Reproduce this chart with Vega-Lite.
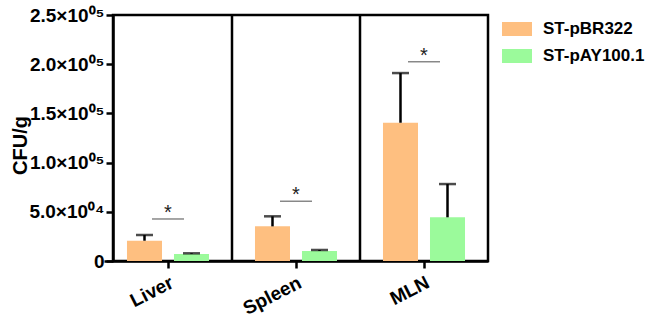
{
  "$schema": "https://vega.github.io/schema/vega-lite/v6.json",
  "width": 375,
  "height": 246,
  "autosize": {"type": "none"},
  "padding": {"left": 113, "top": 15, "right": 165, "bottom": 62},
  "background": "white",
  "config": {
    "view": {"stroke": "black", "strokeWidth": 2.5},
    "font": "Liberation Sans",
    "axisY": {
      "grid": false,
      "labelFontSize": 19,
      "labelFontWeight": "bold",
      "labelColor": "black",
      "labelPadding": 2,
      "tickSize": 7,
      "tickWidth": 2.5,
      "tickColor": "black",
      "domainColor": "black",
      "domainWidth": 2.5,
      "titleFontSize": 20,
      "titleFontWeight": "bold",
      "titleColor": "black",
      "titleX": -93,
      "titleY": 130,
      "titleAngle": -90,
      "titleAlign": "center",
      "titleBaseline": "middle"
    },
    "axisX": {
      "labelAngle": -27,
      "labelAlign": "right",
      "labelBaseline": "top",
      "labelFontSize": 19,
      "labelFontWeight": "bold",
      "labelColor": "black",
      "labelPadding": 5,
      "tickSize": 7,
      "tickWidth": 2.5,
      "tickColor": "black",
      "domainColor": "black",
      "domainWidth": 2.5
    }
  },
  "datasets": {
    "bars": [
      {"tissue": "Liver", "group": "ST-pBR322", "mean": 20600, "upper": 26400},
      {"tissue": "Liver", "group": "ST-pAY100.1", "mean": 7100, "upper": 7800},
      {"tissue": "Spleen", "group": "ST-pBR322", "mean": 35200, "upper": 45400},
      {"tissue": "Spleen", "group": "ST-pAY100.1", "mean": 10200, "upper": 11200},
      {"tissue": "MLN", "group": "ST-pBR322", "mean": 140500, "upper": 191000},
      {"tissue": "MLN", "group": "ST-pAY100.1", "mean": 44400, "upper": 78200}
    ],
    "sig": [
      {"tissue": "Liver", "y": 42700, "label": "*"},
      {"tissue": "Spleen", "y": 60700, "label": "*"},
      {"tissue": "MLN", "y": 202500, "label": "*"}
    ],
    "sep": [{"tissue": "Spleen"}, {"tissue": "MLN"}]
  },
  "encoding": {
    "x": {
      "field": "tissue",
      "type": "nominal",
      "sort": ["Liver", "Spleen", "MLN"],
      "scale": {"domain": ["Liver", "Spleen", "MLN"], "range": [-9, 375], "paddingInner": 0, "paddingOuter": 0},
      "axis": {"title": null}
    }
  },
  "layer": [
    {
      "data": {"name": "bars"},
      "mark": {"type": "bar"},
      "encoding": {
        "xOffset": {"field": "group", "type": "nominal", "scale": {"domain": ["ST-pBR322", "ST-pAY100.1"], "paddingInner": 0.255, "paddingOuter": 0.489}},
        "y": {
          "field": "mean",
          "type": "quantitative",
          "title": "CFU/g",
          "scale": {"domain": [0, 250000], "nice": false},
          "axis": {
            "values": [0, 50000, 100000, 150000, 200000, 250000],
            "labelExpr": "datum.value == 0 ? '0' : datum.value == 50000 ? '5.0×10⁰⁴' : format(datum.value/100000, '.1f') + '×10⁰⁵'"
          }
        },
        "color": {
          "field": "group",
          "type": "nominal",
          "scale": {"domain": ["ST-pBR322", "ST-pAY100.1"], "range": ["#FEBF80", "#9BFA9B"]},
          "legend": {
            "title": null,
            "orient": "none",
            "legendX": 394,
            "legendY": 4,
            "padding": 0,
            "symbolType": "M-1.5,-0.7H1.5V0.7H-1.5Z",
            "symbolSize": 400,
            "symbolStrokeWidth": 0,
            "labelFontSize": 17,
            "labelFontWeight": "bold",
            "labelColor": "black",
            "labelOffset": 16,
            "rowPadding": 9
          }
        }
      }
    },
    {
      "data": {"name": "bars"},
      "mark": {"type": "rule", "color": "black", "strokeWidth": 2.5},
      "encoding": {
        "xOffset": {"field": "group", "type": "nominal"},
        "y": {"field": "mean", "type": "quantitative", "title": "CFU/g"},
        "y2": {"field": "upper"}
      }
    },
    {
      "data": {"name": "bars"},
      "mark": {"type": "tick", "color": "black", "thickness": 2.5, "size": 17},
      "encoding": {
        "xOffset": {"field": "group", "type": "nominal"},
        "y": {"field": "upper", "type": "quantitative", "title": "CFU/g"}
      }
    },
    {
      "data": {"name": "sig"},
      "mark": {"type": "tick", "color": "#555555", "thickness": 1.5, "size": 32},
      "encoding": {
        "y": {"field": "y", "type": "quantitative", "title": "CFU/g"}
      }
    },
    {
      "data": {"name": "sig"},
      "mark": {"type": "text", "color": "#222222", "fontSize": 20, "dy": -6, "baseline": "middle"},
      "encoding": {
        "y": {"field": "y", "type": "quantitative", "title": "CFU/g"},
        "text": {"field": "label"}
      }
    },
    {
      "data": {"name": "sep"},
      "mark": {"type": "rule", "color": "black", "strokeWidth": 2.5},
      "encoding": {
        "x": {"field": "tissue", "type": "nominal", "bandPosition": 0, "sort": ["Liver", "Spleen", "MLN"]}
      }
    }
  ]
}
